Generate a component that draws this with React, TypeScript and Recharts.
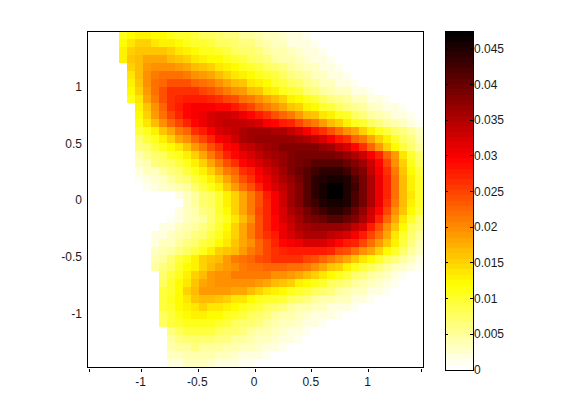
import React from "react";
import { ScatterChart, Scatter, XAxis, YAxis, ReferenceArea, BarChart, Bar } from "recharts";

const xTicks = [-1.46, -1, -0.5, 0, 0.5, 1, 1.47];
const xLabelled = [-1, -0.5, 0, 0.5, 1];
const yTicks = [-1, -0.5, 0, 0.5, 1];
const barTicks = [0, 0.005, 0.01, 0.015, 0.02, 0.025, 0.03, 0.035, 0.04, 0.045];
const xRange = [-1.48, 1.48];
const yRange = [-1.47, 1.49];
const vMax = 0.0475;
const levels = 64;
const gridSize = 42;

// first filled column of each row of the map
const rowStart = [4,4,4,4,5,5,5,5,5,6,6,6,6,6,6,6,6,6,6,6,7,8,8,8,8,8,8,8,8,8,9,9,9,9,9,9,9,10,10,10,10,10];
// density of each row, in thousandths
const rows = [
[11,12,13,13,12,12,11,10,10,9,8,8,7,6,6,5,5,4,3,3,2.5,2,1.5,1,0.7,0.4,0.2],
[12,14,15,15,14,13,13,12,11,10,10,9,8,8,7,6,6,5,4,3,3,2,2,1.5,1,0.7,0.4,0.2],
[13,15,16,16,16,16,15,14,13,12,11,11,10,9,8,7,7,6,5,4,4,3,2.5,2,1.5,1,0.7,0.4,0.2],
[13,16,17,18,18,18,17,16,15,14,13,12,12,11,10,9,8,7,6,5,4,4,3,2.5,2,1.5,1,0.7,0.4,0.2],
[15,17,19,20,20,20,19,18,17,16,15,14,13,12,11,10,9,8,7,6,5,4,3.5,3,2,1.5,1,0.7,0.4,0.2],
[14,17,20,21,22,22,22,21,20,19,18,17,15,14,13,12,11,10,9,8,6.5,5.5,4.5,3.5,3,2,1.5,1,0.7,0.4,0.2],
[13,16,20,22,23,24,24,24,23,22,21,20,18,17,16,14,13,12,10,9,8,7,5.5,4.5,3.5,3,2,1.5,1,0.7,0.4,0.2],
[12,15,19,22,24,26,26,26,26,25,24,23,21,20,19,17,16,14,13,11,10,9,7,6,5,4,3.5,3,2,1.5,1,0.7,0.4,0.2],
[11,14,18,21,24,26,27,28,28,28,27,26,25,24,22,21,20,18,17,15,13,12,11,9,8,6.5,5.5,4.5,3.5,3,2,1.5,1,0.5,0.2],
[13,16,20,23,26,28,29,30,30,30,29,29,28,26,25,23,21,20,18,16,15,13,12,10,9,8,6.5,5.5,4.5,3.5,2.5,2,1.5,1,0.5,0.2],
[12,15,19,22,25,27,29,30,31,32,33,33,32,31,29,28,26,24,23,21,19,17,16,14,13,11,10,8,6.5,5,4,3,2,1.5,1,0.5],
[11,14,17,20,23,25,27,29,31,32,33,34,34,34,33,32,30,29,28,27,25,23,21,19,17,15,13,11,10,8,6.5,5,4,3,2,1],
[9,11,13,16,18,21,23,26,28,30,32,33,34,35,36,36,36,35,35,34,32,30,28,26,24,22,20,18,15,13,11,9,7,6,4.5,3],
[7,9,11,13,15,18,20,23,25,27,30,31,33,35,36,37,37,37,37,37,36,35,34,32,30,28,26,23,21,18,15,13,10,8,6,4],
[6,7,9,11,12,14,16,19,21,24,26,29,30,33,34,35,36,37,38,38,38,38,38,37,36,34,32,29,26,23,19,15,12,9,7,5],
[4,5.5,7,8,10,11,13,15,18,21,24,27,29,31,32,34,35,36,37,38,39,39,39,39,39,38,37,35,33,30,27,23,19,14,10,7],
[3,4,6,7,8,9,11,13,15,18,21,24,26,29,31,32,34,35,37,38,39,40,41,41,41,41,40,38,36,33,29,25,20,15,11,8],
[2,3,3.5,5,6,7,9,11,13,15,18,21,23,26,28,30,32,34,36,38,40,41,43,44,44,44,43,40,38,34,30,26,21,16,12,9],
[1,1.5,2.5,3.5,4.5,6,7,9,11,13,15,18,21,24,26,29,31,33,35,37,39,41,44,45,46,46,45,42,39,35,31,27,22,17,13,10],
[0.5,1,1.5,2.5,3,4,5,7,9,11,13,16,19,22,24,27,30,32,34,36,38,41,44,46,47,47,45,43,39,35,31,27,22,17,13,10],
[0.3,0.3,0.5,0.7,1.5,3,5,7,8,10,13,15,18,21,24,28,30,33,36,38,41,44,46,47.5,47,45,42,39,35,31,27,22,17,14,10],
[0.3,0.5,0.5,0.7,3,5,7,8,10,13,15,18,21,24,27,30,33,36,38,41,43,45,46,46,45,42,39,35,31,26,21,17,13,10],
[0.3,0.5,0.7,1.5,3,4,6,7,10,12,15,18,21,25,27,30,32,35,37,39,41,43,44,44,43,40,37,33,29,25,20,16,12,9],
[0.5,0.7,1,2,3,4,5,7,9,11,14,17,20,24,27,29,32,34,36,38,39,40,41,41,40,38,35,32,27,23,18,14,10,7],
[0.7,1.5,2,3,4,5,6,8,10,12,15,18,21,24,27,29,31,33,35,36,37,37,37,37,36,34,32,28,24,20,16,12,8,6],
[1.5,2,3,4,5,6,7,9,11,13,15,18,21,24,26,28,31,32,34,35,35,35,34,33,32,30,28,25,22,18,14,10,7,5],
[2,3,3.5,5,6,7,9,10,12,14,16,18,20,23,25,27,29,30,31,32,32,32,31,29,28,27,25,22,19,16,13,9,6,4],
[3,4,5,6,8,9,11,13,15,16,17,19,21,23,25,26,27,28,28,28,28,28,27,25,24,22,20,18,15,12,10,7,4.5,3],
[4,5,7,9,11,13,15,16,17,19,21,22,23,24,25,26,26,26,26,25,24,23,21,20,18,16,14,12,10,8,6,4.5,3,2],
[5,6,8,10,12,13,15,17,18,19,20,21,22,22,23,23,23,22,22,21,20,18,16,15,13,11,9,8,6,5,3.5,2.5,1.5,1],
[7,9,11,13,15,17,19,20,20,21,21,21,21,21,20,20,19,18,17,15,14,12,11,9,7,6,5,4,3,2,1,0.7,0.3],
[8,10,12,14,16,18,19,20,20,20,20,20,19,18,17,16,15,13,12,11,10,8,7,6,5,4,3,2.5,2,1,0.7,0.4],
[9,10,12,15,17,19,19,19,19,18,18,17,15,14,13,12,11,10,9,8,7,6,5,4,3,3,2,1.5,1,0.7,0.4,0.2],
[9,11,12,14,16,17,17,16,15,14,14,12,11,10,10,9,8,7,6,5,4,4,3,3,2,1.5,1,0.7,0.4,0.2],
[9,10,12,13,14,15,14,14,13,12,11,10,9,8,7,6,5,4,4,3,3,2,2,1.5,1,0.7,0.4,0.2],
[8,9,11,12,13,13,12,12,11,10,9,8,7,6,5,4,4,3,2.5,2,2,1.5,1,0.7,0.4,0.2],
[8,9,10,11,11,11,11,10,9,8,7,7,6,5,4,3,3,2.5,2,1.5,1,0.7,0.4,0.2],
[6,8,9,9,9,9,8,7,7,6,5,4,4,3,2.5,2,1.5,1,0.7,0.4,0.2],
[5,6,7,7,7,7,6,6,5,5,4,3,3,2.5,2,1.5,1,0.7,0.4,0.2],
[4,5,5,6,5,5,5,4,4,3,3,2.5,2,1.5,1,0.7,0.4,0.2],
[3,3,4,4,4,4,3,3,2.5,2,2,1.5,1,0.7,0.4,0.2],
[2,2,3,3,3,2.5,2,2,1.5,1,1,0.7,0.4,0.2],
];

const xStep = (xRange[1] - xRange[0]) / gridSize;
const yStep = (yRange[1] - yRange[0]) / gridSize;

const cells = rows.flatMap((row, j) =>
  row.map((v, k) => ({
    x: xRange[0] + (rowStart[j] + k + 0.5) * xStep,
    y: yRange[1] - (j + 0.5) * yStep,
    v: v / 1000,
  }))
);

function heat(v: number) {
  const q = Math.min(levels - 1, Math.floor((v / vMax) * levels));
  const s = 1 - q / (levels - 1);
  const c = (a: number) => Math.round(255 * Math.max(0, Math.min(1, a)));
  return `rgb(${c(s / 0.375)},${c((s - 0.375) / 0.375)},${c((s - 0.75) / 0.25)})`;
}

const barRow: Record<string, number | string> = { name: "c" };
const levelKeys = Array.from({ length: levels }, (_, k) => `l${k}`);
levelKeys.forEach((key) => { barRow[key] = vMax / levels; });

const font = { fontFamily: "'Liberation Sans', Arial, sans-serif", fontSize: 12, fill: "#1a1a1a" };
const cellPx = 336 / gridSize;
const layer = { position: "absolute", left: 0, top: 0 } as const;
const noMark = () => <g />;

function Cell(props: any) {
  const { cx, cy, payload } = props;
  return (
    <rect x={cx - cellPx / 2} y={cy - cellPx / 2} width={cellPx} height={cellPx}
      fill={heat(payload.v)} shapeRendering="crispEdges" />
  );
}

function XTick(props: any) {
  const { x, y, payload } = props;
  const labelled = xLabelled.includes(payload.value);
  return (
    <g>
      <line x1={x} x2={x} y1={y - 6} y2={y - 3} stroke="#000" shapeRendering="crispEdges" />
      {labelled && <text x={x - 1} y={y + 11} textAnchor="middle" {...font}>{payload.value}</text>}
    </g>
  );
}

function BarTick(props: any) {
  const { x, y, payload } = props;
  return (
    <g>
      <text x={x + 1} y={y + 4} textAnchor="start" {...font}>{payload.value}</text>
    </g>
  );
}

function FrameTick(props: any) {
  const { x, y } = props;
  return (
    <g>
      <line x1={x - 3} x2={x} y1={y} y2={y} stroke="#000" shapeRendering="crispEdges" />
      <line x1={x - 28} x2={x - 25} y1={y} y2={y} stroke="#000" shapeRendering="crispEdges" />
    </g>
  );
}

export default function App() {
  return (
    <div style={{ position: "absolute", left: 0, top: 0, width: 561, height: 414, background: "#fff" }}>
      <div style={layer}>
        <ScatterChart width={561} height={414} margin={{ top: 31, right: 138, bottom: 0, left: 0 }}>
          <XAxis type="number" dataKey="x" domain={xRange} ticks={xTicks} height={47}
            axisLine={false} tickLine={false} tick={<XTick />} interval={0} allowDataOverflow />
          <YAxis type="number" dataKey="y" domain={yRange} ticks={yTicks} width={87}
            axisLine={false} tickLine={false} tick={font} tickMargin={3} tickSize={2} interval={0} allowDataOverflow />
          <Scatter data={cells} shape={<Cell />} isAnimationActive={false} />
        </ScatterChart>
      </div>
      <div style={layer}>
        <BarChart width={561} height={414} data={[barRow]} barCategoryGap={0}
          margin={{ top: 31, right: 0, bottom: 44, left: 445 }}>
          <XAxis dataKey="name" hide />
          <YAxis orientation="right" type="number" domain={[0, vMax]} ticks={barTicks} width={88}
            axisLine={false} tickLine={false} tickSize={0} tickMargin={0} tick={<BarTick />} interval={0} />
          {levelKeys.map((key, k) => (
            <Bar key={key} dataKey={key} stackId="a" fill={heat((k + 0.5) * vMax / levels)}
              isAnimationActive={false} shapeRendering="crispEdges" />
          ))}
        </BarChart>
      </div>
      <div style={layer}>
        <ScatterChart width={561} height={414} margin={{ top: 31, right: 138, bottom: 47, left: 87 }}>
          <XAxis type="number" dataKey="x" domain={xRange} hide allowDataOverflow />
          <YAxis type="number" dataKey="y" domain={yRange} hide allowDataOverflow />
          <Scatter data={[{ x: 0, y: 0 }]} shape={noMark} isAnimationActive={false} />
          <ReferenceArea x1={xRange[0]} x2={xRange[1]} y1={yRange[0]} y2={yRange[1]}
            fill="none" fillOpacity={0} stroke="#000" strokeWidth={1} shapeRendering="crispEdges" />
        </ScatterChart>
      </div>
      <div style={layer}>
        <ScatterChart width={561} height={414} margin={{ top: 31, right: 0, bottom: 44, left: 445 }}>
          <XAxis type="number" dataKey="x" domain={[0, 1]} hide allowDataOverflow />
          <YAxis type="number" orientation="right" dataKey="y" domain={[0, vMax]} ticks={barTicks} width={88}
            axisLine={false} tickLine={false} tickSize={0} tickMargin={0} tick={<FrameTick />} interval={0} allowDataOverflow />
          <Scatter data={[{ x: 0.5, y: 0 }]} shape={noMark} isAnimationActive={false} />
          <ReferenceArea x1={0} x2={1} y1={0} y2={vMax}
            fill="none" fillOpacity={0} stroke="#000" strokeWidth={1} shapeRendering="crispEdges" />
        </ScatterChart>
      </div>
    </div>
  );
}
